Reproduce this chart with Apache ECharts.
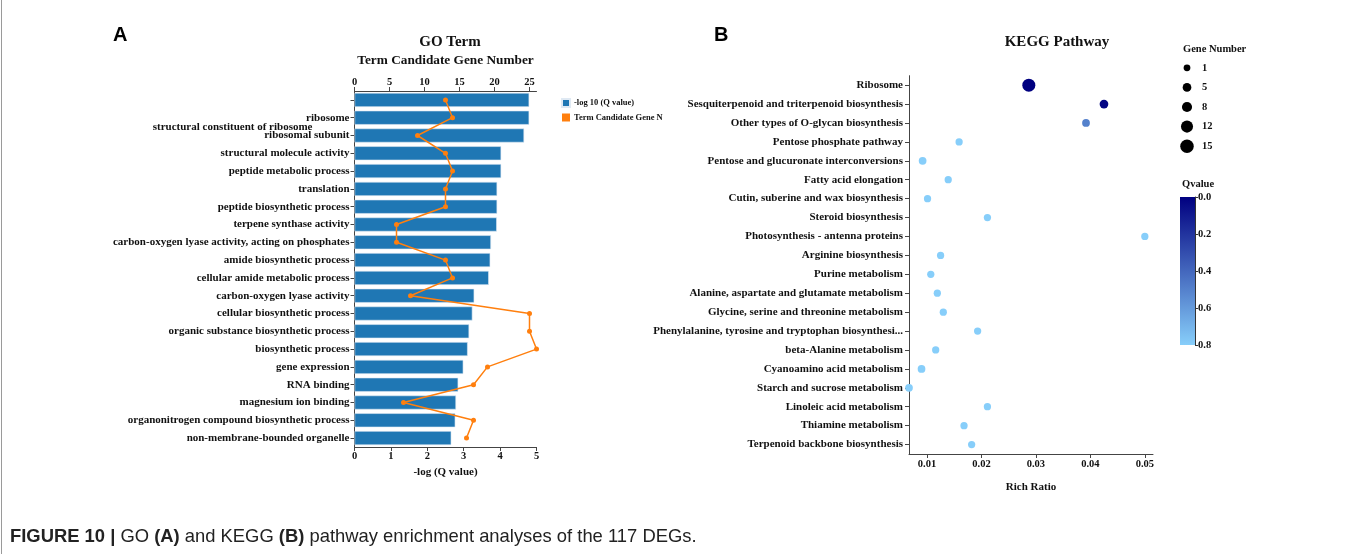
<!DOCTYPE html>
<html>
<head>
<meta charset="utf-8">
<script src="https://cdn.jsdelivr.net/npm/echarts@6/dist/echarts.min.js"></script>
<style>
  html, body { margin: 0; padding: 0; background: #fff; }
  #chart { width: 1358px; height: 554px; }
</style>
</head>
<body>
<div id="chart"></div>
<script>
// ---- GO enrichment (panel A) ----
const goTerms = [
  'structural constituent of ribosome',
  'ribosome',
  'ribosomal subunit',
  'structural molecule activity',
  'peptide metabolic process',
  'translation',
  'peptide biosynthetic process',
  'terpene synthase activity',
  'carbon-oxygen lyase activity, acting on phosphates',
  'amide biosynthetic process',
  'cellular amide metabolic process',
  'carbon-oxygen lyase activity',
  'cellular biosynthetic process',
  'organic substance biosynthetic process',
  'biosynthetic process',
  'gene expression',
  'RNA binding',
  'magnesium ion binding',
  'organonitrogen compound biosynthetic process',
  'non-membrane-bounded organelle'
];
const goNegLogQ = [4.80, 4.80, 4.66, 4.03, 4.03, 3.92, 3.92, 3.91, 3.75, 3.73,
                   3.69, 3.29, 3.24, 3.15, 3.11, 2.99, 2.85, 2.79, 2.77, 2.66];
const goGeneCounts = [13, 14, 9, 13, 14, 13, 13, 6, 6, 13,
                      14, 8, 25, 25, 26, 19, 17, 7, 17, 16];

// ---- KEGG enrichment (panel B) ----
const keggPathways = [
  'Ribosome',
  'Sesquiterpenoid and triterpenoid biosynthesis',
  'Other types of O-glycan biosynthesis',
  'Pentose phosphate pathway',
  'Pentose and glucuronate interconversions',
  'Fatty acid elongation',
  'Cutin, suberine and wax biosynthesis',
  'Steroid biosynthesis',
  'Photosynthesis - antenna proteins',
  'Arginine biosynthesis',
  'Purine metabolism',
  'Alanine, aspartate and glutamate metabolism',
  'Glycine, serine and threonine metabolism',
  'Phenylalanine, tyrosine and tryptophan biosynthesi...',
  'beta-Alanine metabolism',
  'Cyanoamino acid metabolism',
  'Starch and sucrose metabolism',
  'Linoleic acid metabolism',
  'Thiamine metabolism',
  'Terpenoid backbone biosynthesis'
];
const keggRichRatio = [0.0287, 0.0425, 0.0392, 0.0159, 0.0092, 0.0139, 0.0101, 0.0211, 0.0500, 0.0125,
                       0.0107, 0.0119, 0.0130, 0.0193, 0.0116, 0.0090, 0.0067, 0.0211, 0.0168, 0.0182];
const keggQvalue = [0.00, 0.02, 0.50, 0.80, 0.80, 0.80, 0.80, 0.80, 0.80, 0.80,
                    0.80, 0.80, 0.80, 0.80, 0.80, 0.80, 0.80, 0.80, 0.80, 0.80];
const keggGeneNumber = [14, 5, 3, 2, 3, 2, 2, 2, 2, 2,
                        2, 2, 2, 2, 2, 3, 3, 2, 2, 2];

const richRatioTicks = [0.01, 0.02, 0.03, 0.04, 0.05];
const geneNumberLegend = [1, 5, 8, 12, 15];

// ---- styling helpers ----
const SERIF = '"Liberation Serif", "Times New Roman", serif';
const SANS = '"Liberation Sans", Arial, Helvetica, sans-serif';
const AXIS_COLOR = '#444';
const QCOLORS = ['#000080', '#87CEFA'];
const bubbleSize = n => 6.3 + 0.48 * n;

const boldText = (size) => ({ fontFamily: SERIF, fontWeight: 'bold', fontSize: size, color: '#111' });

const chart = echarts.init(document.getElementById('chart'));

const keggData = keggPathways.map((p, i) => [keggRichRatio[i], p, keggQvalue[i], keggGeneNumber[i]]);

const option = {
  backgroundColor: '#fff',
  animation: false,
  textStyle: { fontFamily: SERIF },
  title: [
    { text: 'GO Term', left: 445, top: 30, textAlign: 'center',
      textStyle: boldText(15) },
    { text: 'KEGG Pathway', left: 1052, top: 30, textAlign: 'center',
      textStyle: boldText(15) }
  ],
  legend: {
    left: 556, top: 93, orient: 'vertical', icon: 'rect',
    itemWidth: 8, itemHeight: 8, itemGap: 5,
    data: ['-log 10 (Q value)', 'Term Candidate Gene Number'],
    textStyle: Object.assign(boldText(8.5), { width: 93, overflow: 'truncate', ellipsis: '', padding: [0, 0, 0, -1] })
  },
  visualMap: {
    show: false, type: 'continuous', min: 0, max: 0.8, dimension: 2,
    seriesIndex: 2, inRange: { color: QCOLORS }
  },
  grid: [
    // 0: GO bars
    { left: 354.5, top: 91, width: 182, height: 356 },
    // 1: KEGG bubbles
    { left: 909, top: 75.7, width: 244, height: 378.3 },
    // 2: size legend
    { left: 1180, top: 58, width: 14, height: 98 },
    // 3: colour bar
    { left: 1180, top: 197, width: 15, height: 148 }
  ],
  xAxis: [
    { // -log Q (bottom)
      gridIndex: 0, type: 'value', position: 'bottom', min: 0, max: 5, interval: 1,
      name: '-log (Q value)', nameLocation: 'middle', nameGap: 20,
      nameTextStyle: boldText(11),
      axisLine: { show: true, lineStyle: { color: AXIS_COLOR } },
      axisTick: { show: true, length: 4, lineStyle: { color: AXIS_COLOR } },
      axisLabel: Object.assign(boldText(10.5), { margin: 4 }),
      splitLine: { show: false }
    },
    { // gene number (top)
      gridIndex: 0, type: 'value', position: 'top', min: 0, max: 26, interval: 5,
      name: 'Term Candidate Gene Number', nameLocation: 'middle', nameGap: 24,
      nameTextStyle: boldText(13.3),
      axisLine: { show: true, lineStyle: { color: AXIS_COLOR } },
      axisTick: { show: true, length: 4, lineStyle: { color: AXIS_COLOR } },
      axisLabel: Object.assign(boldText(10.5), { margin: 3, showMaxLabel: false }),
      splitLine: { show: false }
    },
    { // rich ratio
      gridIndex: 1, type: 'value', min: 0.0067, max: 0.0515,
      name: 'Rich Ratio', nameLocation: 'middle', nameGap: 28,
      nameTextStyle: boldText(11),
      axisLine: { show: true, onZero: false, lineStyle: { color: AXIS_COLOR } },
      axisTick: { show: true, length: 4, customValues: richRatioTicks, lineStyle: { color: AXIS_COLOR } },
      axisLabel: Object.assign(boldText(10.5), { margin: 5, customValues: richRatioTicks,
        formatter: v => Number(v).toFixed(2) }),
      splitLine: { show: false }
    },
    { gridIndex: 2, type: 'value', min: 0, max: 1, show: false },
    { gridIndex: 3, type: 'category', data: ['q'], show: false }
  ],
  yAxis: [
    { // GO terms
      gridIndex: 0, type: 'category', inverse: true, data: goTerms,
      axisLine: { show: true, lineStyle: { color: AXIS_COLOR } },
      axisTick: { show: true, alignWithLabel: true, length: 4, lineStyle: { color: AXIS_COLOR } },
      axisLabel: Object.assign(boldText(11), {
        margin: 5, interval: 0,
        formatter: (v, i) => i === 0 ? '{shifted|' + v + '}' : v,
        rich: { shifted: Object.assign(boldText(11), { padding: [54, 37, 0, 0] }) }
      })
    },
    { // KEGG pathways
      gridIndex: 1, type: 'category', inverse: true, data: keggPathways,
      axisLine: { show: true, lineStyle: { color: AXIS_COLOR } },
      axisTick: { show: true, alignWithLabel: true, length: 4, lineStyle: { color: AXIS_COLOR } },
      axisLabel: Object.assign(boldText(11), { margin: 6, interval: 0 })
    },
    { // size legend labels
      gridIndex: 2, type: 'category', inverse: true, position: 'right',
      data: geneNumberLegend.map(String),
      axisLine: { show: false }, axisTick: { show: false },
      axisLabel: Object.assign(boldText(10.5), { margin: 8, interval: 0 })
    },
    { // colour bar scale
      gridIndex: 3, type: 'value', inverse: true, position: 'right',
      min: 0, max: 0.8, interval: 0.2,
      axisLine: { show: true, lineStyle: { color: '#333' } },
      axisTick: { show: true, length: 3, inside: false, lineStyle: { color: '#333' } },
      axisLabel: Object.assign(boldText(10.5), { margin: 3, formatter: v => v.toFixed(1) }),
      splitLine: { show: false }
    }
  ],
  series: [
    {
      name: '-log 10 (Q value)', type: 'bar',
      xAxisIndex: 0, yAxisIndex: 0,
      data: goNegLogQ, barCategoryGap: '21%',
      itemStyle: { color: '#1f77b4', borderColor: '#dfe9f3', borderWidth: 0.6 }
    },
    {
      name: 'Term Candidate Gene Number', type: 'line',
      xAxisIndex: 1, yAxisIndex: 0,
      data: goGeneCounts.map((v, i) => [v, goTerms[i]]),
      symbol: 'circle', symbolSize: 5,
      lineStyle: { color: '#ff7f0e', width: 1.5 },
      itemStyle: { color: '#ff7f0e' }
    },
    {
      name: 'KEGG', type: 'scatter',
      xAxisIndex: 2, yAxisIndex: 1,
      data: keggData,
      encode: { x: 0, y: 1 },
      symbolSize: d => bubbleSize(d[3]),
      itemStyle: { opacity: 1 },
      clip: false
    },
    {
      name: 'Gene Number', type: 'scatter',
      xAxisIndex: 3, yAxisIndex: 2,
      data: geneNumberLegend.map(n => [0.5, String(n), n]),
      symbolSize: d => bubbleSize(d[2]),
      itemStyle: { color: '#000', opacity: 1 }
    },
    {
      name: 'Qvalue', type: 'bar',
      xAxisIndex: 4, yAxisIndex: 3,
      data: [0.8], barWidth: '100%',
      itemStyle: {
        color: new echarts.graphic.LinearGradient(0, 0, 0, 1, [
          { offset: 0, color: QCOLORS[0] },
          { offset: 1, color: QCOLORS[1] }
        ])
      }
    }
  ],
  graphic: [
    { type: 'text', left: 113, top: 25,
      style: { text: 'A', fontFamily: SANS, fontWeight: 'bold', fontSize: 20, fill: '#000' } },
    { type: 'text', left: 714, top: 25,
      style: { text: 'B', fontFamily: SANS, fontWeight: 'bold', fontSize: 20, fill: '#000' } },
    { type: 'text', left: 1183, top: 44,
      style: { text: 'Gene Number', fontFamily: SERIF, fontWeight: 'bold', fontSize: 10.5, fill: '#111' } },
    { type: 'text', left: 1182, top: 179,
      style: { text: 'Qvalue', fontFamily: SERIF, fontWeight: 'bold', fontSize: 10.5, fill: '#111' } },
    { type: 'text', left: 10, top: 528,
      style: {
        text: '{b|FIGURE 10 |} GO {b|(A)} and KEGG {b|(B)} pathway enrichment analyses of the 117 DEGs.',
        fontFamily: SANS, fontSize: 18.4, fill: '#222',
        rich: { b: { fontFamily: SANS, fontSize: 18.4, fontWeight: 'bold', fill: '#222' } }
      } },
    { type: 'line', shape: { x1: 1.5, y1: 0, x2: 1.5, y2: 554 },
      style: { stroke: '#9a9a9a', lineWidth: 1 } }
  ]
};

chart.setOption(option);
</script>
</body>
</html>
